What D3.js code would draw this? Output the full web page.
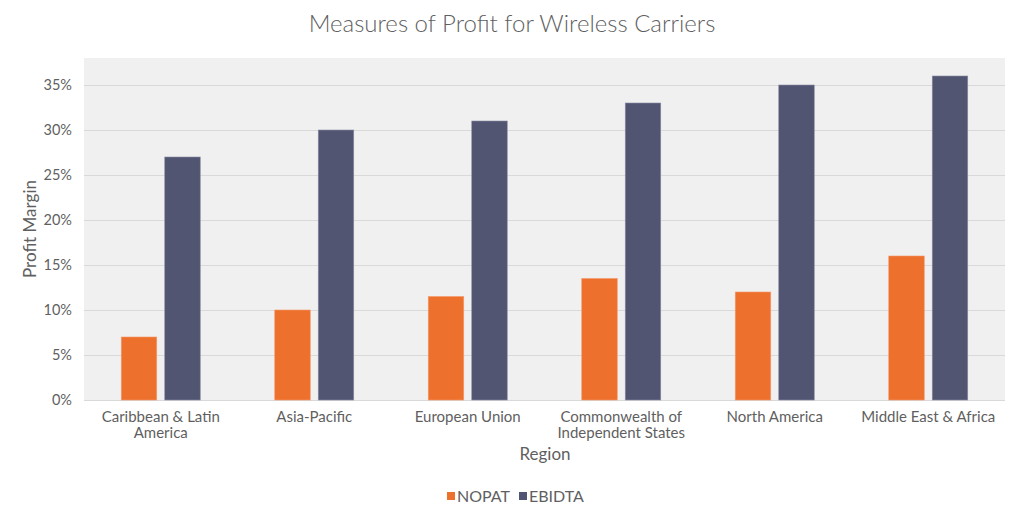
<!DOCTYPE html>
<html>
<head>
<meta charset="utf-8" />
<script src="https://cdn.jsdelivr.net/npm/d3@7"></script>
<style>
  body { margin: 0; background: #fff; }
  text { font-family: Lato, "Open Sans", sans-serif; fill: #5f5f5f; }
  .grid line { stroke: #d9d9d9; stroke-width: 1; }
  .grid path { display: none; }
</style>
</head>
<body>
<script>
// chart data
var regions = [
  ["Caribbean & Latin", "America"],
  ["Asia-Pacific"],
  ["European Union"],
  ["Commonwealth of", "Independent States"],
  ["North America"],
  ["Middle East & Africa"]
];
var seriesNames = ["NOPAT", "EBIDTA"];
var nopat = [7, 10, 11.5, 13.5, 12, 16];
var ebidta = [27, 30, 31, 33, 35, 36];
var yTicks = [0, 5, 10, 15, 20, 25, 30, 35];
var colors = ["#ed702d", "#515572"];

var width = 1024, height = 520;
var plot = { left: 84, right: 1005, top: 58, bottom: 400 };

var svg = d3.select("body").append("svg")
  .attr("width", width)
  .attr("height", height);

var x = d3.scaleBand()
  .domain(d3.range(regions.length))
  .range([plot.left, plot.right]);

var x1 = d3.scaleBand()
  .domain(seriesNames)
  .range([0, 79])
  .paddingInner(0.184);

var y = d3.scaleLinear()
  .domain([0, 38])
  .range([plot.bottom, plot.top]);

// background
svg.append("rect")
  .attr("x", plot.left)
  .attr("y", plot.top)
  .attr("width", plot.right - plot.left)
  .attr("height", plot.bottom - plot.top)
  .attr("fill", "#f0f0f0");

// gridlines
svg.append("g")
  .attr("class", "grid")
  .attr("transform", "translate(" + plot.left + ",0)")
  .call(d3.axisLeft(y).tickValues(yTicks).tickSize(-(plot.right - plot.left)).tickFormat(""));

// y tick labels
svg.append("g").selectAll("text")
  .data(yTicks)
  .enter().append("text")
  .attr("x", plot.left - 12)
  .attr("y", function(d) { return y(d); })
  .attr("dy", "0.35em")
  .attr("text-anchor", "end")
  .attr("font-size", 14.5)
  .text(function(d) { return d + "%"; });

// bars
var rows = regions.map(function(r, i) { return [nopat[i], ebidta[i]]; });
var groups = svg.append("g").selectAll("g")
  .data(rows)
  .enter().append("g")
  .attr("transform", function(d, i) {
    return "translate(" + (x(i) + x.bandwidth() / 2 - 39.5) + ",0)";
  });

groups.selectAll("rect")
  .data(function(d) { return d.map(function(v, j) { return { key: seriesNames[j], value: v, j: j }; }); })
  .enter().append("rect")
  .attr("x", function(d) { return x1(d.key); })
  .attr("y", function(d) { return y(d.value); })
  .attr("width", x1.bandwidth())
  .attr("height", function(d) { return y(0) - y(d.value); })
  .attr("fill", function(d) { return colors[d.j]; })
  .attr("stroke", function(d) { return d.j === 0 ? "#f59a6a" : "#8a8da3"; })
  .attr("stroke-width", 0.6);

// x category labels
var labels = svg.append("g").selectAll("text")
  .data(regions)
  .enter().append("text")
  .attr("x", function(d, i) { return x(i) + x.bandwidth() / 2; })
  .attr("y", 422)
  .attr("text-anchor", "middle")
  .attr("font-size", 15);

labels.selectAll("tspan")
  .data(function(d) { return d; })
  .enter().append("tspan")
  .attr("x", function() { return d3.select(this.parentNode).attr("x"); })
  .attr("dy", function(d, k) { return k === 0 ? 0 : 16; })
  .text(function(d) { return d; });

// title
svg.append("text")
  .attr("x", 512)
  .attr("y", 32)
  .attr("text-anchor", "middle")
  .attr("font-size", 24)
  .attr("font-weight", 300)
  .text("Measures of Profit for Wireless Carriers");

// axis titles
svg.append("text")
  .attr("x", 545)
  .attr("y", 460)
  .attr("text-anchor", "middle")
  .attr("font-size", 17)
  .text("Region");

svg.append("text")
  .attr("transform", "translate(36,229) rotate(-90)")
  .attr("text-anchor", "middle")
  .attr("font-size", 17)
  .text("Profit Margin");

// legend
var legend = svg.append("g").selectAll("g")
  .data(seriesNames)
  .enter().append("g")
  .attr("transform", function(d, i) { return "translate(" + (447 + i * 72) + ",492)"; });

legend.append("rect")
  .attr("width", 8)
  .attr("height", 8)
  .attr("fill", function(d, i) { return colors[i]; });

legend.append("text")
  .attr("x", 10)
  .attr("y", 4)
  .attr("dy", "0.35em")
  .attr("font-size", 16)
  .text(function(d) { return d; });
</script>
</body>
</html>
